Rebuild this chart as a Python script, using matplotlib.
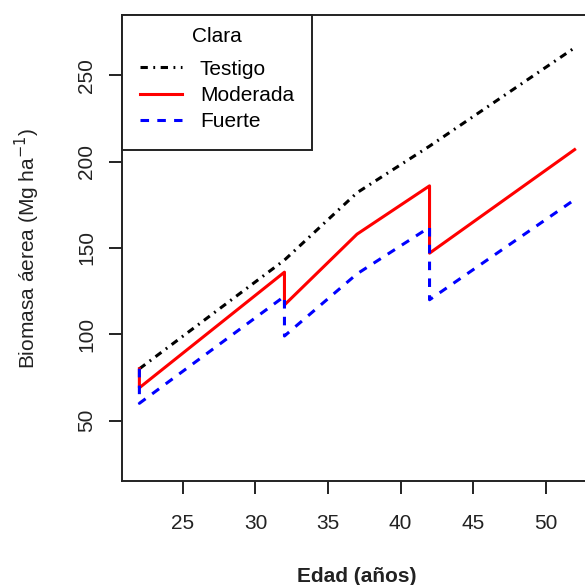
import matplotlib
matplotlib.use('Agg')
import matplotlib.pyplot as plt

plt.rcParams['font.family'] = ['Liberation Sans', 'DejaVu Sans']

# data (age in years, biomass in Mg/ha)
edad_testigo = [22, 32, 37, 42, 52]
testigo = [80, 143, 182, 209, 266]

edad_moderada = [22, 22, 32, 32, 37, 42, 42, 52]
moderada = [80, 69, 136, 117, 158, 186, 147, 207]

edad_fuerte = [22, 22, 32, 32, 37, 42, 42, 52]
fuerte = [80, 60, 122, 99, 135, 162, 120, 178]

x_ticks = [25, 30, 35, 40, 45, 50]
y_ticks = [50, 100, 150, 200, 250]

fig = plt.figure(figsize=(5.85, 5.85), dpi=100)
# right edge of the plot box falls outside the image, like the reference crop
ax = fig.add_axes([0.2085, 0.1778, 0.8035, 0.7966])

lw = 2.2
ax.plot(edad_testigo, testigo, color='black', lw=lw, dashes=(2.4, 1.8, 0.6, 1.8),
        label='Testigo')
ax.plot(edad_moderada, moderada, color='#ff0000', lw=lw, label='Moderada')
ax.plot(edad_fuerte, fuerte, color='#0000ff', lw=lw, dashes=(2.8, 2.7),
        label='Fuerte')

ax.set_xlim(20.8, 53.2)
ax.set_ylim(15, 285)
ax.set_xticks(x_ticks)
ax.set_yticks(y_ticks)

for s in ax.spines.values():
    s.set_linewidth(1.4)
    s.set_color('#222222')
ax.tick_params(length=9.5, width=1.4, color='#222222', labelsize=15, labelcolor='#222222')
ax.tick_params(axis='x', pad=14.5)
ax.tick_params(axis='y', pad=9, labelrotation=90)
for lab in ax.get_yticklabels():
    lab.set_va('center')

ax.set_xlabel('Edad (años)', fontsize=15, fontweight='bold', color='#222222')
ax.xaxis.set_label_coords(0.5, -0.185)
ax.xaxis.label.set_va('top')
ax.set_ylabel('Biomasa áerea (Mg ha$^{-1}$)', fontsize=15, color='#222222')
ax.yaxis.set_label_coords(-0.170, 0.5)

leg = ax.legend(title='Clara', loc='upper left', bbox_to_anchor=(0, 1),
                borderaxespad=0, fontsize=15, title_fontsize=15, fancybox=False,
                edgecolor='#222222', framealpha=1, handlelength=2.0,
                handletextpad=0.85, labelspacing=0.35, borderpad=0.6)
leg.get_frame().set_linewidth(1.4)
# a bit of extra room round the entries, as in the R legend
leg._legend_handle_box.pad = 4.3

fig.savefig('out.png', dpi=100)
